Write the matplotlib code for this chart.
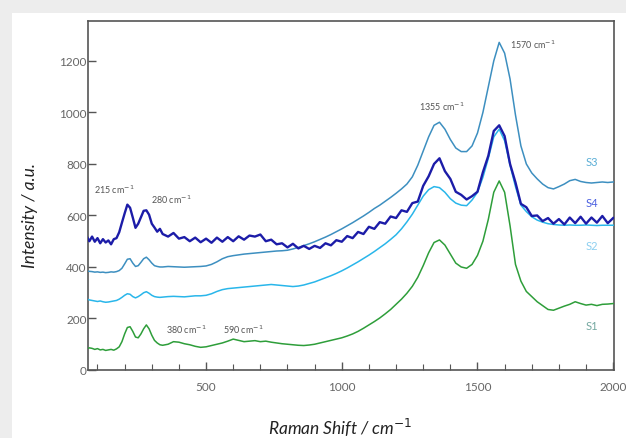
import numpy as np
import matplotlib
matplotlib.use("Agg")
import matplotlib.pyplot as plt
from matplotlib.patches import Rectangle

# Raman shift grid (cm^-1)
raman_low = [60, 70, 80, 90, 100, 110, 120, 130, 140, 150, 160, 170, 180, 190,
             200, 210, 220, 230, 240, 250, 260, 270, 280, 290, 300, 310, 320, 330]
raman_high = list(range(340, 2001, 20))
raman_shift = np.array(raman_low + raman_high, dtype=float)

s1 = [82, 86, 84, 80, 83, 78, 80, 76, 78, 80, 77, 82, 90, 110,
      140, 165, 168, 150, 128, 125, 140, 160, 175, 160, 135, 115, 105, 98,
      96, 100, 110, 108, 102, 98, 92, 88, 90, 95, 100, 105, 112, 120, 115, 110,
      112, 114, 110, 112, 108, 105, 102, 100, 98, 96, 95, 97, 100, 105, 110, 115,
      120, 125, 132, 140, 150, 162, 175, 188, 202, 218, 235, 255, 275, 298, 325,
      360, 405, 455, 495, 505, 485, 450, 415, 400, 395, 410, 445, 500, 585, 690,
      734, 690, 560, 410, 345, 305, 285, 265, 250, 235, 232, 240, 248, 255, 265,
      258, 252, 255, 250, 255, 256, 258]

s2 = [276, 272, 270, 268, 266, 268, 265, 263, 264, 266, 268, 270, 275, 282,
      290, 296, 294, 285, 280, 285, 292, 300, 304, 298, 290, 285, 283, 282,
      283, 285, 286, 285, 284, 286, 288, 288, 290, 296, 305, 312, 316, 318, 320,
      322, 324, 326, 328, 330, 332, 330, 328, 326, 324, 326, 330, 336, 342, 350,
      358, 366, 375, 385, 396, 408, 420, 433, 446, 460, 475, 490, 507, 525, 548,
      575, 605, 640, 675, 700, 712, 708, 690, 665, 648, 640, 638,
      660, 690, 748, 822, 905, 935, 890, 795, 712, 640, 615, 595, 582, 574, 568,
      565, 563, 562, 563, 562, 562, 563, 562, 561, 562, 562, 562]

s3 = [385, 383, 382, 380, 381, 379, 380, 378, 379, 381, 380, 382, 386, 395,
      412, 430, 432, 415, 402, 405, 418, 432, 438, 428, 415, 405, 402, 400,
      400, 402, 401, 400, 399, 400, 401, 402, 404, 410, 420, 432, 440, 444, 447,
      450, 452, 454, 456, 458, 460, 462, 463, 465, 470, 476, 483, 490, 498, 507,
      516, 526, 537, 548, 560, 572, 585, 598, 612, 627, 640, 655, 670, 686, 703,
      722, 750, 795, 850, 905, 950, 962, 935, 895, 862, 848, 848, 870, 920, 1000,
      1100, 1200, 1272, 1230, 1130, 990, 870, 800, 765, 742, 722, 708, 703, 712,
      722, 735, 740, 732, 728, 726, 728, 730, 728, 730]

s4 = [520, 500, 518, 498, 512, 492, 508, 495, 503, 488, 508, 512, 535, 572,
      608, 642, 630, 592, 552, 568, 593, 618, 620, 603, 568, 553, 537, 548,
      528, 518, 532, 510, 516, 500, 514, 496, 510, 494,
      514, 498, 516, 500, 519, 506, 522, 518, 526, 500,
      506, 488, 492, 476, 490, 472, 482, 470, 482, 474,
      492, 484, 504, 498, 520, 512, 536, 528, 556, 548,
      574, 568, 596, 590, 620, 614, 648, 654, 715, 752,
      800, 822, 772, 742, 692, 680, 662, 675, 692, 768,
      832, 928, 950, 908, 800, 728, 645, 632, 598, 600,
      578, 590, 568, 586, 565, 592, 570, 595, 568, 592, 572, 598, 570, 590]

series_colors = {"S1": "#2e9e3a", "S2": "#29b6ea", "S3": "#3d8fc0", "S4": "#1c1ca8"}
series_values = {"S1": s1, "S2": s2, "S3": s3, "S4": s4}

# end-of-curve labels (x, y)
label_pos = {"S3": (1923, 808), "S4": (1923, 652), "S2": (1923, 485), "S1": (1923, 171)}
label_colors = {"S3": "#5aaed6", "S4": "#4a5fe0", "S2": "#8ccff0", "S1": "#74a8a0"}

# peak annotations: (text, x, y)
peak_notes = [("215 cm$^{-1}$", 88, 703), ("280 cm$^{-1}$", 298, 664),
              ("1355 cm$^{-1}$", 1283, 1025), ("1570 cm$^{-1}$", 1618, 1266),
              ("380 cm$^{-1}$", 353, 159), ("590 cm$^{-1}$", 562, 159)]

plt.rcParams['font.family'] = ['Lato', 'DejaVu Sans']

fig = plt.figure(figsize=(6.26, 4.39), dpi=100)
fig.patch.set_facecolor('#ededed')
fig.add_artist(Rectangle((12 / 626, 0), 1, (439 - 14) / 439, transform=fig.transFigure,
                         facecolor='white', edgecolor='none', zorder=0))

ax = fig.add_axes([88 / 626, (439 - 371) / 439, (614 - 88) / 626, (371 - 22) / 439])
ax.set_facecolor('white')

for name, lw in [("S1", 1.1), ("S2", 1.1), ("S3", 1.1), ("S4", 1.7)]:
    y = np.array(series_values[name], dtype=float)
    assert len(y) == len(raman_shift), (name, len(y))
    ax.plot(raman_shift, y, color=series_colors[name], lw=lw, zorder=3)

for name, (lx, ly) in label_pos.items():
    ax.text(lx, ly, name, color=label_colors[name], fontsize=8, ha='center', va='center')

for txt, tx, ty in peak_notes:
    ax.text(tx, ty, txt, color='#555555', fontsize=6.5, ha='left', va='center')

ax.set_xlim(65, 2003)
ax.set_ylim(0, 1355)
ax.set_xticks([500, 1000, 1500, 2000])
ax.set_xticks(np.arange(100, 2001, 100), minor=True)
ax.set_yticks([0, 200, 400, 600, 800, 1000, 1200])
for sp in ax.spines.values():
    sp.set_color('#555555')
    sp.set_linewidth(1.2)
ax.tick_params(axis='x', which='major', direction='in', length=6, width=1, colors='#555555',
               labelcolor='#666666', labelsize=8.5, pad=8)
ax.tick_params(axis='x', which='minor', direction='in', length=4, width=0.8, colors='#555555')
ax.tick_params(axis='y', which='major', direction='in', length=6, width=1, colors='#555555',
               labelcolor='#666666', labelsize=8.5, pad=1)

fig.text(340 / 626, 1 - 428 / 439, "Raman Shift / cm$^{-1}$", fontsize=12.5, style='italic',
         color='#222222', ha='center', va='center')
fig.text(30 / 626, 1 - 215 / 439, "Intensity / a.u.", fontsize=12.5, style='italic',
         color='#222222', ha='center', va='center', rotation=90)

fig.savefig("out.png", dpi=100, facecolor=fig.get_facecolor())
